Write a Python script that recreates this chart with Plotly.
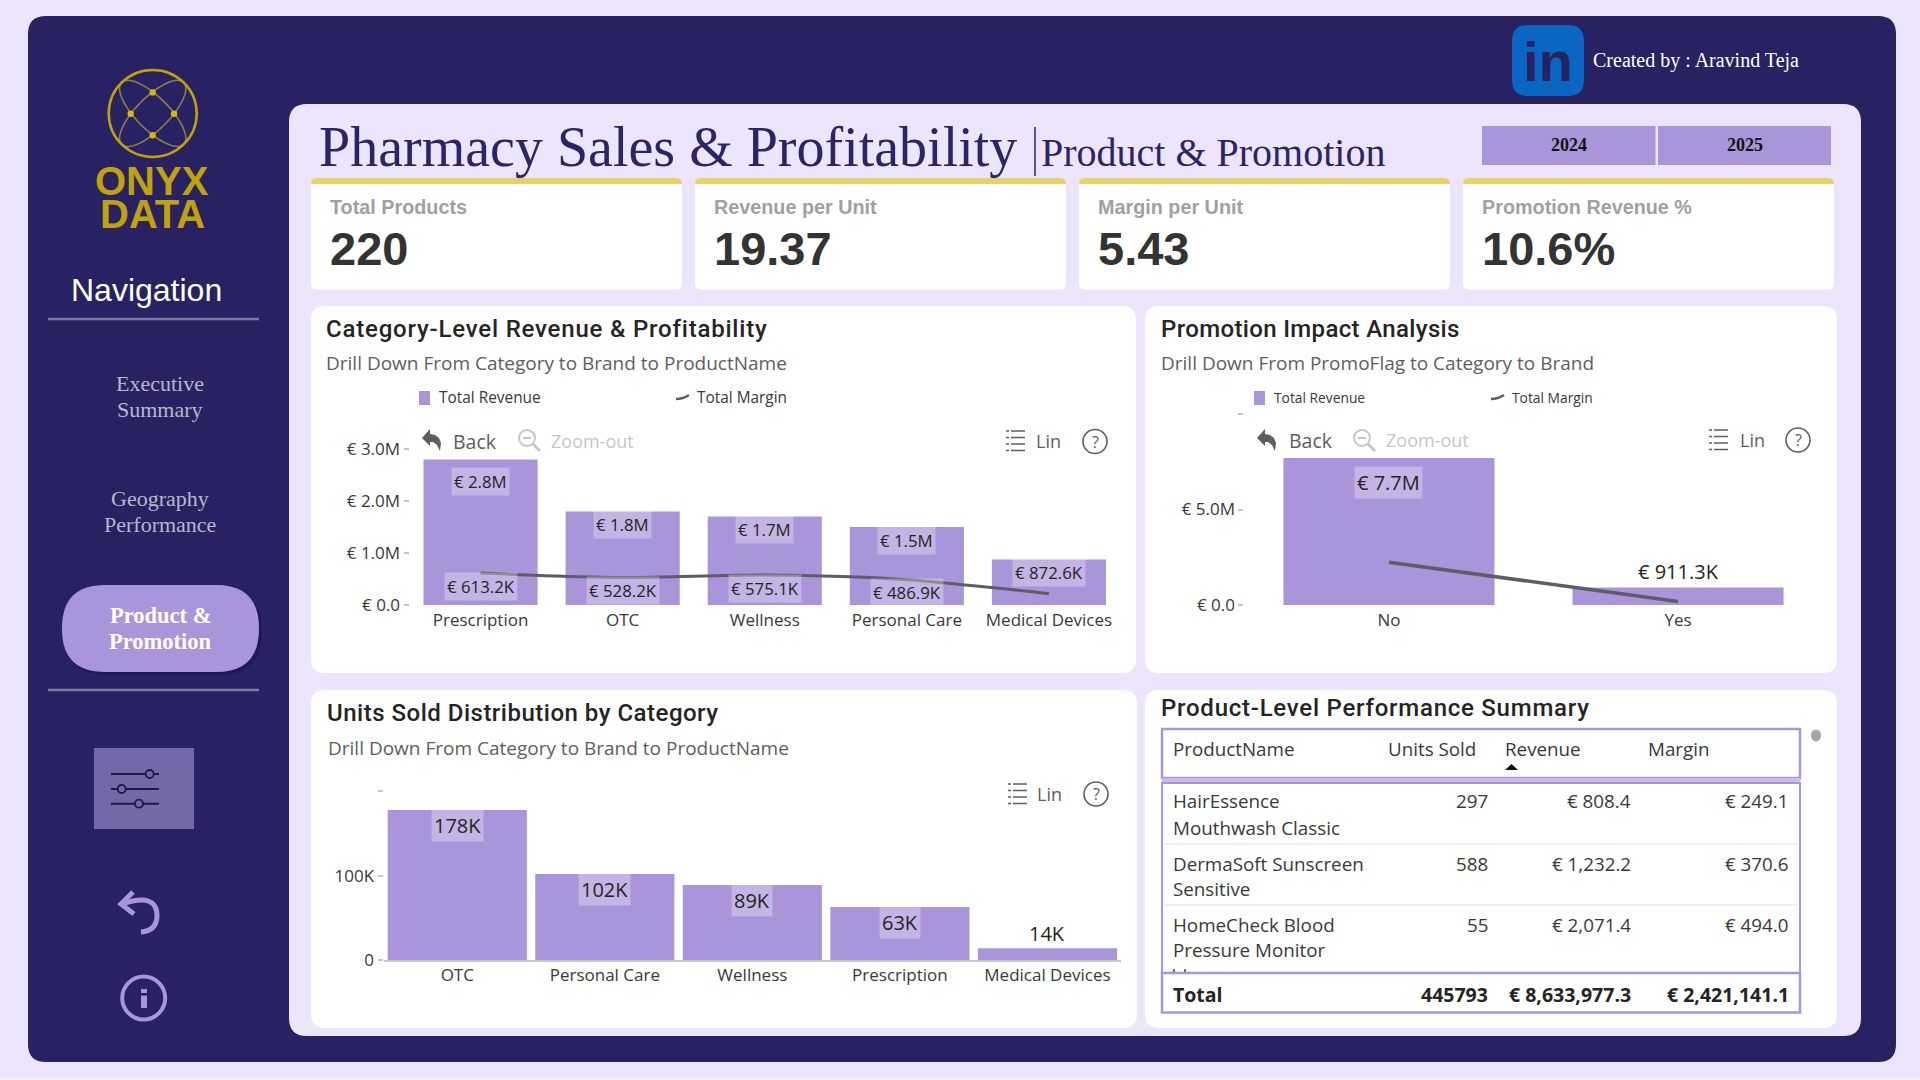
import numpy as np
import plotly.graph_objects as go

W, H = 1920, 1080

# Chart data
category_names = ["Prescription", "OTC", "Wellness", "Personal Care", "Medical Devices"]
category_revenue = [2800000, 1800000, 1700000, 1500000, 872600]
category_margin = [613200, 528200, 575100, 486900, 217700]
category_revenue_labels = ["€ 2.8M", "€ 1.8M", "€ 1.7M", "€ 1.5M", "€ 872.6K"]
category_margin_labels = ["€ 613.2K", "€ 528.2K", "€ 575.1K", "€ 486.9K"]
category_ticks = [0, 1000000, 2000000, 3000000]
category_tick_labels = ["€ 0.0", "€ 1.0M", "€ 2.0M", "€ 3.0M"]

promo_names = ["No", "Yes"]
promo_revenue = [7700000, 911300]
promo_margin = [2240000, 181000]
promo_revenue_labels = ["€ 7.7M", "€ 911.3K"]
promo_ticks = [0, 5000000, 10000000]
promo_tick_labels = ["€ 0.0", "€ 5.0M", ""]

units_names = ["OTC", "Personal Care", "Wellness", "Prescription", "Medical Devices"]
units_sold = [178000, 102000, 89000, 63000, 14000]
units_labels = ["178K", "102K", "89K", "63K", "14K"]
units_ticks = [0, 100000, 200000]
units_tick_labels = ["0", "100K", ""]

kpi_titles = ["Total Products", "Revenue per Unit", "Margin per Unit", "Promotion Revenue %"]
kpi_values = ["220", "19.37", "5.43", "10.6%"]

table_columns = ["ProductName", "Units Sold", "Revenue", "Margin"]
table_products = [["HairEssence", "Mouthwash Classic"], ["DermaSoft Sunscreen", "Sensitive"], ["HomeCheck Blood", "Pressure Monitor"]]
table_units = ["297", "588", "55"]
table_revenue = ["€ 808.4", "€ 1,232.2", "€ 2,071.4"]
table_margin = ["€ 249.1", "€ 370.6", "€ 494.0"]
table_total = ["Total", "445793", "€ 8,633,977.3", "€ 2,421,141.1"]

# Palette and fonts
PAGE = "#ECE5FD"
NAVY = "#282263"
PURPLE = "#AA94DA"
GOLD = "#BFA30A"
YELLOW = "#E8D16B"
INK = "#252423"
GREY = "#605E5C"
LINE = "#5E5C66"
SANS = "Open Sans"
ARIAL = "Liberation Sans"
SERIF = "Liberation Serif"
HEAD = "Roboto"

shapes = []
annotations = []


def fx(x):
    return x / W


def fy(y):
    return 1 - y / H


def rounded(x0, y0, x1, y1, r):
    return (
        f"M {fx(x0 + r)} {fy(y0)} L {fx(x1 - r)} {fy(y0)} Q {fx(x1)} {fy(y0)} {fx(x1)} {fy(y0 + r)} "
        f"L {fx(x1)} {fy(y1 - r)} Q {fx(x1)} {fy(y1)} {fx(x1 - r)} {fy(y1)} "
        f"L {fx(x0 + r)} {fy(y1)} Q {fx(x0)} {fy(y1)} {fx(x0)} {fy(y1 - r)} "
        f"L {fx(x0)} {fy(y0 + r)} Q {fx(x0)} {fy(y0)} {fx(x0 + r)} {fy(y0)} Z"
    )


def add_path(d, fill=None, stroke=None, width=0, layer="below"):
    shapes.append(dict(
        type="path", xref="paper", yref="paper", path=d, layer=layer,
        fillcolor=fill if fill else "rgba(0,0,0,0)",
        line=dict(color=stroke if stroke else "rgba(0,0,0,0)", width=width),
    ))


def add_card(x0, y0, x1, y1, r, fill):
    add_path(rounded(x0, y0, x1, y1, r), fill=fill)


def add_rect(x0, y0, x1, y1, fill):
    shapes.append(dict(type="rect", xref="paper", yref="paper", layer="below",
                       x0=fx(x0), x1=fx(x1), y0=fy(y1), y1=fy(y0),
                       fillcolor=fill, line=dict(width=0)))


def add_line(x0, y0, x1, y1, color, width=1, layer="below"):
    shapes.append(dict(type="line", xref="paper", yref="paper", layer=layer,
                       x0=fx(x0), x1=fx(x1), y0=fy(y0), y1=fy(y1),
                       line=dict(color=color, width=width)))


def add_circle(cx, cy, rx, ry=None, fill=None, stroke=None, width=0, layer="below"):
    ry = rx if ry is None else ry
    shapes.append(dict(type="circle", xref="paper", yref="paper", layer=layer,
                       x0=fx(cx - rx), x1=fx(cx + rx), y0=fy(cy + ry), y1=fy(cy - ry),
                       fillcolor=fill if fill else "rgba(0,0,0,0)",
                       line=dict(color=stroke if stroke else "rgba(0,0,0,0)", width=width)))


def add_text(x, y, text, size, color=INK, family=SANS, anchor="left", weight=None):
    font = dict(size=size, color=color, family=family)
    if weight:
        font["weight"] = weight
    annotations.append(dict(
        xref="paper", yref="paper", x=fx(x), y=fy(y), text=text, showarrow=False,
        xanchor=anchor, yanchor="middle", borderpad=0, font=font,
    ))


def add_heading(x, y, text, tracking):
    add_text(x, y, f'<span style="letter-spacing:{tracking}px">{text}</span>', 24, INK, HEAD, weight=500)


def add_value_label(axis, x, y, text, size, shift, backed=True):
    annotations.append(dict(
        xref=axis[0], yref=axis[1], x=x, y=y, text=text, showarrow=False,
        xanchor="center", yanchor="middle", yshift=shift, borderpad=2,
        bgcolor="rgba(255,255,255,0.3)" if backed else "rgba(0,0,0,0)",
        font=dict(size=size, color=INK, family=SANS),
    ))


def poly(points, close=True):
    d = "M " + " L ".join(f"{fx(x)} {fy(y)}" for x, y in points)
    return d + (" Z" if close else "")


def back_icon(cx, cy):
    pts = [(-10, -2), (-2, -11), (-2, -6), (3, -5), (7, -2), (9, 3), (8, 11), (5, 5), (1, 2), (-2, 2), (-2, 6)]
    add_path(poly([(cx + a, cy + b) for a, b in pts]), fill=GREY)


def zoom_icon(cx, cy):
    add_circle(cx - 2, cy - 2, 8, stroke="#C8C6C4", width=2)
    add_line(cx + 4, cy + 4, cx + 11, cy + 11, "#C8C6C4", 3)
    add_line(cx - 6, cy - 2, cx + 2, cy - 2, "#C8C6C4", 2)


def list_icon(x0, cy):
    for dy in (-10, -3.5, 3, 9.5):
        add_line(x0, cy + dy, x0 + 3, cy + dy, GREY, 1.5)
        add_line(x0 + 5, cy + dy, x0 + 19, cy + dy, GREY, 1.5)


def help_icon(cx, cy):
    add_circle(cx, cy, 12, stroke=GREY, width=1.6)
    add_text(cx, cy, "?", 16, GREY, SANS, "center")


def legend_row(sq_x, rev_x, mark_x, mar_x, y, size):
    add_rect(sq_x, y - 7, sq_x + 11, y + 7, PURPLE)
    add_text(rev_x, y, "Total Revenue", size, "#3A3938")
    add_path(f"M {fx(mark_x)} {fy(y + 1)} Q {fx(mark_x + 7)} {fy(y + 1)} {fx(mark_x + 13)} {fy(y - 3)}",
             stroke=LINE, width=2.5)
    add_text(mar_x, y, "Total Margin", size, "#3A3938")


# Page, sidebar frame and main panel
add_rect(0, 0, W, H, PAGE)
add_rect(0, 1077, W, H, "#F2F2F2")
add_card(28, 16, 1896, 1062, 18, NAVY)
add_card(289, 104, 1861, 1036, 18, PAGE)

# Logo: ring, crossing orbits and nodes
for angle in (np.pi / 4, -np.pi / 4):
    t = np.linspace(0, 2 * np.pi, 60)
    ex, ey = 44 * np.cos(t), 16.3 * np.sin(t)
    px = 152.7 + ex * np.cos(angle) - ey * np.sin(angle)
    py = 113.4 + ex * np.sin(angle) + ey * np.cos(angle)
    add_path(poly(list(zip(px, py))), stroke="#8C7D50", width=1.6)
add_circle(152.7, 113.4, 44, 43.5, stroke=GOLD, width=2.5)
for cx, cy in [(152.7, 92.4), (130.7, 113.8), (174, 113.8), (152.7, 135.3)]:
    add_circle(cx, cy, 3.2, fill="#D4B812")
add_text(152, 181, "<b>ONYX</b>", 40, GOLD, ARIAL, "center")
add_text(152, 214, "<b>DATA</b>", 40, GOLD, ARIAL, "center")

# Navigation
add_text(146.5, 290, "Navigation", 32, "#FFFFFF", ARIAL, "center")
add_line(48, 319, 259, 319, "#7C7A9E", 2.5)
add_text(160, 383, "Executive", 22, "#B9B7CB", SERIF, "center")
add_text(160, 409, "Summary", 22, "#B9B7CB", SERIF, "center")
add_text(160, 498.5, "Geography", 22, "#B9B7CB", SERIF, "center")
add_text(160, 524.5, "Performance", 22, "#B9B7CB", SERIF, "center")
add_card(64, 588, 262, 675, 43, "#1F1A52")
add_card(62, 585, 259, 672, 43, PURPLE)
add_text(160, 615, "<b>Product &amp;</b>", 22.5, "#FFFFFF", SERIF, "center")
add_text(160, 641.5, "<b>Promotion</b>", 22.5, "#FFFFFF", SERIF, "center")
add_line(48, 690, 259, 690, "#7C7A9E", 2.5)

# Filter, back and info buttons
add_rect(94, 748, 194, 829, "#7568A6")
for y, knob in [(774, 149.7), (789, 121.7), (803.7, 139)]:
    add_line(111, y, 159, y, "#1E1A4A", 2)
    add_circle(knob, y, 4, fill="#7568A6", stroke="#1E1A4A", width=1.8)
add_path(poly([(133, 892), (121, 904), (134, 914)], close=False), stroke=PURPLE, width=5)
add_path(f"M {fx(122)} {fy(904)} Q {fx(158)} {fy(892)} {fx(157)} {fy(917)} Q {fx(156)} {fy(931)} {fx(141)} {fy(932)}",
         stroke=PURPLE, width=5)
add_circle(143.7, 998, 21.5, stroke=PURPLE, width=4)
add_rect(141, 989, 147, 993, PURPLE)
add_rect(141, 995.5, 147, 1008, PURPLE)

# Author badge
add_card(1512, 25, 1584, 96, 16, "#0A66C2")
add_text(1548, 62, "<b>in</b>", 56, NAVY, ARIAL, "center")
add_text(1592, 60, "Created by : Aravind Teja", 20, "#FFFFFF", SERIF)

# Page heading and year buttons
add_text(318, 147, "Pharmacy Sales &amp; Profitability", 56, "#2B2568", SERIF)
add_line(1035, 127, 1035, 176, "#2B2568", 1.5)
add_text(1040, 153, "Product &amp; Promotion", 40, "#2B2568", SERIF)
add_rect(1482, 126, 1655.5, 165, PURPLE)
add_rect(1658, 126, 1831, 165, PURPLE)
add_text(1569, 145, "<b>2024</b>", 18, "#111111", SERIF, "center")
add_text(1744.5, 145, "<b>2025</b>", 18, "#111111", SERIF, "center")

# KPI cards
kpi_edges = [(311, 682), (695, 1066), (1079, 1450), (1463, 1834)]
for (x0, x1), title, value in zip(kpi_edges, kpi_titles, kpi_values):
    add_card(x0, 178, x1, 289.5, 6, "#FFFFFF")
    add_path(rounded(x0, 178, x1, 192, 6), fill=YELLOW)
    add_rect(x0, 184, x1, 196, "#FFFFFF")
    add_text(x0 + 18, 206.5, f"<b>{title}</b>", 19.8, "#A0A0A0", ARIAL)
    add_text(x0 + 18, 248, f"<b>{value}</b>", 47, "#333333", ARIAL)

# Chart and table cards
add_card(311, 306, 1136, 673, 14, "#FFFFFF")
add_card(1145, 306, 1837, 673, 14, "#FFFFFF")
add_card(311, 690, 1137, 1028, 14, "#FFFFFF")
add_card(1145, 690, 1837, 1028, 14, "#FFFFFF")

add_heading(325, 329, "Category-Level Revenue &amp; Profitability", 0.8)
add_text(325, 363, "Drill Down From Category to Brand to ProductName", 19, GREY)
add_heading(1160, 329, "Promotion Impact Analysis", 0.35)
add_text(1160, 363, "Drill Down From PromoFlag to Category to Brand", 19, GREY)
add_heading(326, 713, "Units Sold Distribution by Category", 0.5)
add_text(326.5, 748, "Drill Down From Category to Brand to ProductName", 19, GREY)
add_heading(1160, 708, "Product-Level Performance Summary", 0.75)

# Legends
legend_row(419, 438, 676, 696, 398, 15.4)
legend_row(1254, 1273, 1491, 1511, 398, 13.8)

# Visual toolbars
back_icon(432, 440)
add_text(452, 441, "Back", 19.5, GREY)
zoom_icon(529, 440)
add_text(550, 441, "Zoom-out", 18, "#C8C6C4")
list_icon(1006, 441)
add_text(1035, 441, "Lin", 18, GREY)
help_icon(1095, 441.5)

back_icon(1267, 440)
add_text(1287.5, 440, "Back", 19.5, GREY)
zoom_icon(1364, 440)
add_text(1385, 440, "Zoom-out", 18, "#C8C6C4")
list_icon(1709, 440)
add_text(1739, 440, "Lin", 18, GREY)
help_icon(1798, 440)

list_icon(1008, 794)
add_text(1036, 794, "Lin", 18, GREY)
help_icon(1096, 794)

# Product table
frame = "#AA94DA"
add_path(poly([(1162, 729), (1800, 729), (1800, 778), (1162, 778)]), fill="#FFFFFF", stroke=frame, width=2.5)
add_rect(1162, 778, 1800, 783, "#C9BCE8")
add_path(poly([(1162, 783), (1800, 783), (1800, 973), (1162, 973)]), fill="#FFFFFF", stroke=frame, width=2)
add_path(poly([(1162, 973), (1800, 973), (1800, 1012.5), (1162, 1012.5)]), fill="#FFFFFF", stroke=frame, width=2.5)
add_line(1164, 844, 1798, 844, "#EDEBE9", 1.5)
add_line(1164, 905, 1798, 905, "#EDEBE9", 1.5)
add_line(1174, 969, 1174, 972, "#444444", 1.5)
add_line(1185, 969, 1185, 972, "#444444", 1.5)
for x, name in zip([1171.5, 1386.5, 1503.5, 1646.5], table_columns):
    add_text(x, 749, name, 18.8, "#3A3938")
add_path(poly([(1505, 770), (1518, 770), (1511.5, 764)]), fill="#111111")
row_lines = [(801, 827.5), (863.5, 889), (924.5, 949.5)]
for (y1, y2), product, units, revenue, margin in zip(row_lines, table_products, table_units, table_revenue, table_margin):
    add_text(1171.5, y1, product[0], 18.8, "#3A3938")
    add_text(1171.5, y2, product[1], 18.8, "#3A3938")
    add_text(1489, y1, units, 18.8, "#3A3938", anchor="right")
    add_text(1631.5, y1, revenue, 18.8, "#3A3938", anchor="right")
    add_text(1790, y1, margin, 18.8, "#3A3938", anchor="right")
add_text(1171.5, 994, f"<b>{table_total[0]}</b>", 19.5, INK)
for x, cell in zip([1489, 1631.5, 1790], table_total[1:]):
    add_text(x, 994, f"<b>{cell}</b>", 19.5, INK, anchor="right")
add_circle(1816, 735.5, 5, 6, fill="#A6A6A6")

# Charts
fig = go.Figure()
fig.add_bar(x=category_names, y=category_revenue, marker_color=PURPLE, xaxis="x", yaxis="y", name="Total Revenue")
fig.add_scatter(x=category_names, y=category_margin, mode="lines", xaxis="x", yaxis="y", name="Total Margin",
                line=dict(color=LINE, width=3, shape="spline", smoothing=0.8))
fig.add_bar(x=promo_names, y=promo_revenue, marker_color=PURPLE, xaxis="x2", yaxis="y2", name="Total Revenue")
fig.add_scatter(x=promo_names, y=promo_margin, mode="lines", xaxis="x2", yaxis="y2", name="Total Margin",
                line=dict(color=LINE, width=3.5))
fig.add_bar(x=units_names, y=units_sold, marker_color=PURPLE, xaxis="x3", yaxis="y3", name="Units Sold")

# The first bar's label sits lower so it clears the visual's toolbar
for name, value, text in zip(category_names, category_revenue, category_revenue_labels):
    add_value_label(("x", "y"), name, value, text, 16.8, -22 if name == "Prescription" else -13)
for name, value, text in zip(category_names, category_margin, category_margin_labels):
    add_value_label(("x", "y"), name, value, text, 16.8, -13)
add_value_label(("x2", "y2"), promo_names[0], promo_revenue[0], promo_revenue_labels[0], 20, -24.5)
add_value_label(("x2", "y2"), promo_names[1], promo_revenue[1], promo_revenue_labels[1], 20, 16, backed=False)
for name, value, text in zip(units_names, units_sold, units_labels):
    small = value < 30000
    add_value_label(("x3", "y3"), name, value, text, 20, 15 if small else -15.5, backed=not small)


def x_axis(x0, x1, anchor, standoff, line=False):
    return dict(
        domain=[fx(x0), fx(x1)], type="category", ticks="", fixedrange=True, automargin=False,
        showgrid=False, zeroline=False, showline=line, linecolor="#C8C6C4", linewidth=1.5,
        anchor=anchor, ticklabelstandoff=standoff,
        tickfont=dict(size=17, color="#3A3938", family=SANS),
    )


def y_axis(bottom, top, rng, vals, labels, anchor):
    return dict(
        domain=[fy(bottom), fy(top)], range=rng, tickmode="array", tickvals=vals, ticktext=labels,
        ticks="outside", ticklen=5, tickcolor="#C8C6C4", tickwidth=1.5, fixedrange=True, automargin=False,
        showgrid=False, zeroline=False, showline=False, anchor=anchor,
        tickfont=dict(size=17, color="#3A3938", family=SANS),
    )


fig.update_layout(
    template="none",
    width=W, height=H, autosize=False, margin=dict(l=0, r=0, t=0, b=0, pad=0, autoexpand=False),
    paper_bgcolor=PAGE, plot_bgcolor="rgba(0,0,0,0)", showlegend=False, barmode="group",
    bargap=0.197, shapes=shapes, annotations=annotations,
    xaxis=x_axis(409.5, 1120, "y", 3),
    yaxis=y_axis(605, 438.6, [0, 3200000], category_ticks, category_tick_labels, "x"),
    xaxis2=x_axis(1244.4, 1822.6, "y2", 3),
    yaxis2=y_axis(605, 404.5, [0, 10500000], promo_ticks, promo_tick_labels, "x2"),
    xaxis3=x_axis(383.5, 1121.2, "y3", -1, line=True),
    yaxis3=y_axis(960, 783, [0, 210000], units_ticks, units_tick_labels, "x3"),
)
fig.data[2].update(width=0.73)
fig.data[4].update(width=0.943)

fig.write_html("out.html", config={"displayModeBar": False})
